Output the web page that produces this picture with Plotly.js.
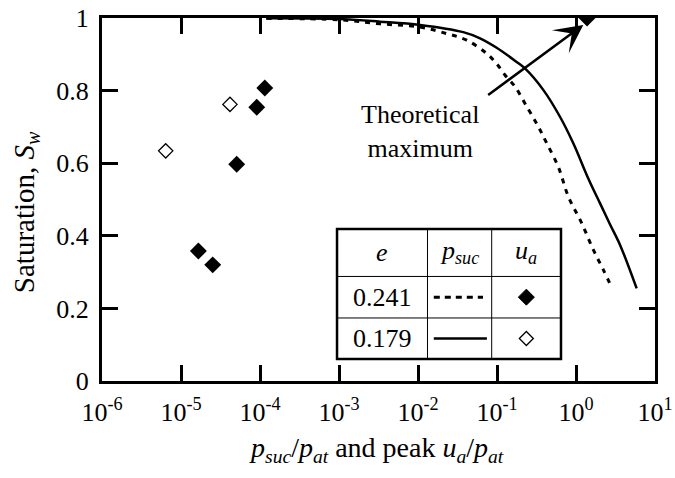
<!DOCTYPE html>
<html>
<head>
<meta charset="utf-8">
<script src="https://cdn.plot.ly/plotly-3.0.1.min.js"></script>
<style>html,body{margin:0;padding:0;background:#fff;}#chart{width:675px;height:478px;}</style>
</head>
<body>
<div id="chart"></div>
<script>
// Measured points, e = 0.241 (filled diamonds)
const uaFilledX = [1.66e-5, 2.52e-5, 5.07e-5, 9.1e-5, 1.15e-4, 1.38];
const uaFilledY = [0.358, 0.320, 0.597, 0.754, 0.807, 1.0];
// Measured points, e = 0.179 (open diamonds)
const uaOpenX = [6.4e-6, 4.17e-5];
const uaOpenY = [0.634, 0.762];
// Suction curve, e = 0.241 (dashed)
const sucDashX = [1.2e-4, 1e-3, 0.0033, 0.0106, 0.0231, 0.0413, 0.0741, 0.099, 0.126, 0.169, 0.238, 0.333, 0.426, 0.597, 0.80, 1.18, 1.66, 2.22, 2.83];
const sucDashY = [0.999, 0.995, 0.984, 0.975, 0.957, 0.939, 0.902, 0.874, 0.843, 0.811, 0.756, 0.701, 0.655, 0.590, 0.508, 0.435, 0.361, 0.306, 0.258];
// Suction curve, e = 0.179 (solid)
const sucSolidX = [1.2e-4, 1e-3, 0.0033, 0.0106, 0.0374, 0.061, 0.099, 0.177, 0.226, 0.385, 0.627, 0.924, 1.43, 2.01, 2.69, 3.61, 5.86];
const sucSolidY = [0.999, 0.997, 0.990, 0.981, 0.961, 0.944, 0.918, 0.879, 0.861, 0.802, 0.728, 0.655, 0.558, 0.490, 0.432, 0.375, 0.255];
// Axis ticks
const xTickVals = [1e-6, 1e-5, 1e-4, 1e-3, 1e-2, 1e-1, 1, 10];
const xTickText = ['10<sup>-6</sup>', '10<sup>-5</sup>', '10<sup>-4</sup>', '10<sup>-3</sup>', '10<sup>-2</sup>', '10<sup>-1</sup>', '10<sup>0</sup>', '10<sup>1</sup>'];
const yTickVals = [0, 0.2, 0.4, 0.6, 0.8, 1];
const yTickText = ['0', '0.2', '0.4', '0.6', '0.8', '1'];
// Titles and table text
const xTitle = '<i>p</i><sub><i>suc</i></sub>/<i>p</i><sub><i>at</i></sub> and peak <i>u</i><sub><i>a</i></sub>/<i>p</i><sub><i>at</i></sub>';
const yTitle = 'Saturation, <i>S</i><sub><i>w</i></sub>';
const tableE = ['0.241', '0.179'];
// Annotation target
const arrowTip = [1.236, 0.981];
const arrowTail = [0.074, 0.785];

const FONT = '"Liberation Serif", "Times New Roman", Times, serif';

const traces = [
  {x: sucDashX, y: sucDashY, mode: 'lines', line: {color: '#000', width: 3, dash: '5px,6px', shape: 'spline', smoothing: 1}, hoverinfo: 'skip'},
  {x: sucSolidX, y: sucSolidY, mode: 'lines', line: {color: '#000', width: 2.5, shape: 'spline', smoothing: 1}, hoverinfo: 'skip'},
  {x: uaFilledX, y: uaFilledY, mode: 'markers', marker: {symbol: 'diamond', size: 13, color: '#000', line: {width: 0}}},
  {x: uaOpenX, y: uaOpenY, mode: 'markers', marker: {symbol: 'diamond-open', size: 11, color: '#000', line: {width: 1.3, color: '#000'}}}
];

// table geometry (paper coords)
const tx0 = 0.425, tx1 = 0.830, tc1 = 0.5886, tc2 = 0.7047;
const ty0 = 0.0606, ty1 = 0.4187, tr1 = 0.288, tr2 = 0.1736;
const rowY = [0.231, 0.117];
const colX = [(tx0 + tc1) / 2, (tc1 + tc2) / 2, (tc2 + tx1) / 2];

function diamondPath(cx, cy, r) {
  const hx = r / 553, hy = r / 363;
  return `M${cx - hx},${cy} L${cx},${cy + hy} L${cx + hx},${cy} L${cx},${cy - hy} Z`;
}

const shapes = [
  {type: 'rect', xref: 'paper', yref: 'paper', x0: tx0, x1: tx1, y0: ty0, y1: ty1, line: {color: '#000', width: 2.5}, fillcolor: 'rgba(255,255,255,0)'},
  {type: 'line', xref: 'paper', yref: 'paper', x0: tc1, x1: tc1, y0: ty0, y1: ty1, line: {color: '#000', width: 1}},
  {type: 'line', xref: 'paper', yref: 'paper', x0: tc2, x1: tc2, y0: ty0, y1: ty1, line: {color: '#000', width: 1}},
  {type: 'line', xref: 'paper', yref: 'paper', x0: tx0, x1: tx1, y0: tr1, y1: tr1, line: {color: '#000', width: 1}},
  {type: 'line', xref: 'paper', yref: 'paper', x0: tx0, x1: tx1, y0: tr2, y1: tr2, line: {color: '#000', width: 1}},
  {type: 'line', xref: 'paper', yref: 'paper', x0: 0.600, x1: 0.689, y0: rowY[0], y1: rowY[0], line: {color: '#000', width: 3, dash: '6px,5px'}},
  {type: 'line', xref: 'paper', yref: 'paper', x0: 0.600, x1: 0.696, y0: rowY[1], y1: rowY[1], line: {color: '#000', width: 2.5}},
  {type: 'path', xref: 'paper', yref: 'paper', path: diamondPath(colX[2], rowY[0], 8), fillcolor: '#000', line: {color: '#000', width: 1}},
  {type: 'path', xref: 'paper', yref: 'paper', path: diamondPath(colX[2], rowY[1], 7), fillcolor: 'rgba(255,255,255,0)', line: {color: '#000', width: 1.3}}
];

const annFont = {family: FONT, size: 26, color: '#000'};
function cell(x, y, text) {
  return {xref: 'paper', yref: 'paper', x: x, y: y, xanchor: 'center', yanchor: 'middle', text: text, showarrow: false, font: annFont};
}
const annotations = [
  cell(colX[0], 0.354, '<i>e</i>'),
  cell(colX[1], 0.354, '<i>p</i><sub><i>suc</i></sub>'),
  cell(colX[2], 0.354, '<i>u</i><sub><i>a</i></sub>'),
  cell(colX[0], rowY[0], tableE[0]),
  cell(colX[0], rowY[1], tableE[1]),
  cell(0.575, 0.687, 'Theoretical<br>maximum'),
  {xref: 'paper', yref: 'paper', x: 0.4955, y: -0.19, xanchor: 'center', yanchor: 'middle', text: xTitle, showarrow: false,
   font: {family: FONT, size: 28, color: '#000'}},
  {xref: 'paper', yref: 'paper', x: -0.1375, y: 0.465, xanchor: 'center', yanchor: 'middle', textangle: -90, text: yTitle, showarrow: false,
   font: {family: FONT, size: 29, color: '#000'}},
  {xref: 'x', yref: 'y', x: Math.log10(arrowTip[0]), y: arrowTip[1], axref: 'x', ayref: 'y', ax: Math.log10(arrowTail[0]), ay: arrowTail[1],
   text: '', showarrow: true, arrowhead: 3, arrowsize: 1.9, arrowwidth: 2.5, arrowcolor: '#000', standoff: 0}
];

const layout = {
  width: 675, height: 478,
  margin: {l: 102, r: 20, t: 18, b: 97},
  paper_bgcolor: '#fff', plot_bgcolor: '#fff',
  showlegend: false,
  font: {family: FONT, size: 26, color: '#000'},
  xaxis: {
    type: 'log', range: [-6, 1], tickvals: xTickVals, ticktext: xTickText,
    ticks: 'inside', ticklen: 16, tickwidth: 3, tickcolor: '#000',
    showline: true, linewidth: 3, linecolor: '#000', mirror: 'ticks',
    showgrid: false, zeroline: false, ticklabelstandoff: 6,
    tickfont: {family: FONT, size: 26, color: '#000'}
  },
  yaxis: {
    range: [0, 1], tickvals: yTickVals, ticktext: yTickText,
    ticks: 'inside', ticklen: 16, tickwidth: 3, tickcolor: '#000',
    showline: true, linewidth: 3, linecolor: '#000', mirror: 'ticks',
    showgrid: false, zeroline: false, ticklabelstandoff: 5,
    tickfont: {family: FONT, size: 26, color: '#000'}
  },
  shapes: shapes,
  annotations: annotations
};

Plotly.newPlot('chart', traces, layout, {staticPlot: true, displayModeBar: false});
</script>
</body>
</html>
